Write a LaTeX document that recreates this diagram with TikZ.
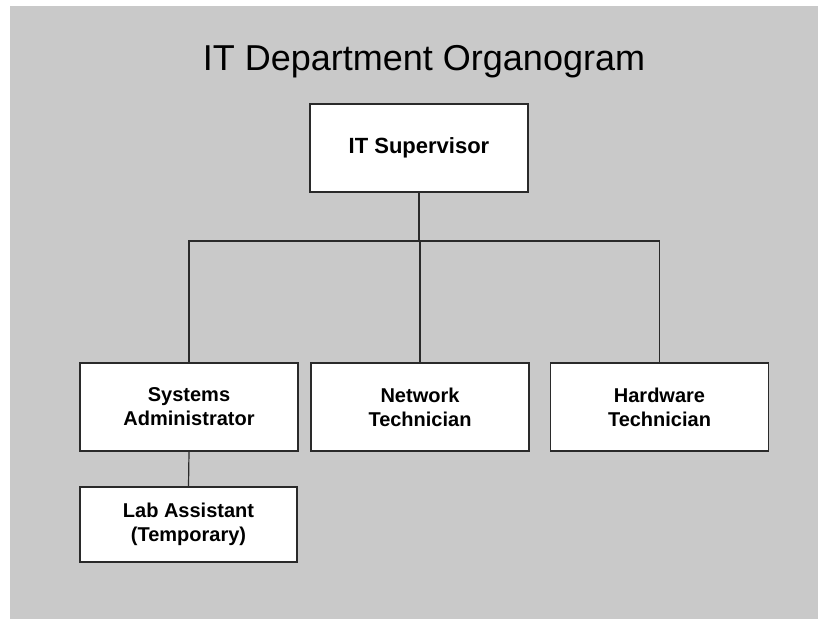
\documentclass[tikz,border=0pt]{standalone}
\usepackage{fontspec}
\setmainfont{Liberation Sans}
\definecolor{bggrey}{HTML}{C9C9C9}
\definecolor{linegrey}{HTML}{2A2A2A}
\begin{document}
\begin{tikzpicture}[x=1pt,y=-1pt,
  post/.style={draw=linegrey,line width=1.4pt,fill=white,minimum width=218pt,minimum height=88pt,
    align=center,font=\bfseries\fontsize{20}{24}\selectfont,inner sep=0pt},
  link/.style={draw=linegrey,line width=1.2pt}]
\useasboundingbox (0,0) rectangle (818,619);
\fill[bggrey] (10,6) rectangle (818,619);
\node[font=\fontsize{36}{40}\selectfont] (title) at (424,62) {IT Department Organogram};
\node[post,font=\bfseries\fontsize{22}{26}\selectfont] (sup) at (419,148) {IT Supervisor};
\node[post] (sys) at (189,407) {Systems\\Administrator};
\node[post] (net) at (420,407) {Network\\Technician};
\node[post] (hw) at (659.5,407) {Hardware\\Technician};
\node[post,minimum width=217pt,minimum height=75pt] (lab) at (188.5,524.5) {Lab Assistant\\(Temporary)};
\coordinate (bar) at (420,241);
\draw[link] (sup.south) -- (sup.south |- bar);
\draw[link] (sys.north) -- (sys.north |- bar) -- (hw.north |- bar) -- (hw.north);
\draw[link] (net.north) -- (net.north |- bar);
\draw[link] (sys.south) -- (lab.north);
\end{tikzpicture}
\end{document}
